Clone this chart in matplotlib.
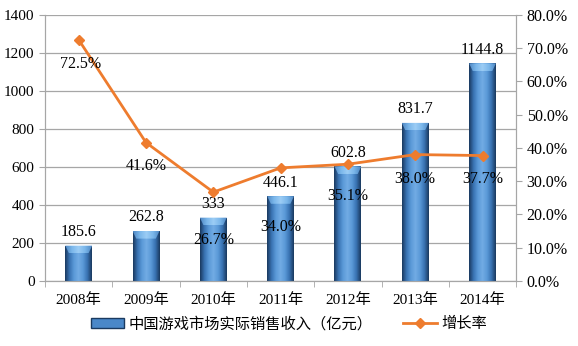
import numpy as np
import matplotlib.pyplot as plt
from matplotlib.colors import LinearSegmentedColormap
from matplotlib.lines import Line2D
from matplotlib.patches import Patch, Polygon

plt.rcParams['font.family'] = ['Liberation Serif', 'Noto Sans CJK SC', 'DejaVu Sans']

years = ['2008年', '2009年', '2010年', '2011年', '2012年', '2013年', '2014年']
revenue = [185.6, 262.8, 333, 446.1, 602.8, 831.7, 1144.8]
revenue_labels = ['185.6', '262.8', '333', '446.1', '602.8', '831.7', '1144.8']
growth = [72.5, 41.6, 26.7, 34.0, 35.1, 38.0, 37.7]
# offsets (points) of each growth label from its marker
growth_offsets = [(1, -12), (0, -11), (0, -29), (0, -37), (0, -17), (0, -12), (0, -11)]

bar_blue = '#4a88c9'
line_orange = '#ee7c2e'
grid_gray = '#a6a6a6'

fig = plt.figure(figsize=(5.78, 3.46), dpi=100)
ax = fig.add_axes([0.078, 0.188, 0.815, 0.769])
x = np.arange(len(years))
w = 0.4

bars = ax.bar(x, revenue, width=w, color=bar_blue, zorder=2)

# cylinder-like shading on each bar, lighter bevel on top
shade = LinearSegmentedColormap.from_list(
    'shade', ['#1a3a60', '#3a74b4', '#5b9ad8', '#72ace4', '#5b9ad8', '#3a74b4', '#1a3a60'])
shade_top = LinearSegmentedColormap.from_list(
    'shade_top', ['#4f88c4', '#7ab6ea', '#9ccdf5', '#7ab6ea', '#4f88c4'])
grad = np.linspace(0, 1, 64).reshape(1, -1)
bevel = 40
for xi, v, b in zip(x, revenue, bars):
    im = ax.imshow(grad, cmap=shade, aspect='auto', zorder=3,
                   extent=(xi - w / 2, xi + w / 2, 0, v))
    im.set_clip_path(b)
    top = Polygon([(xi - w / 2, v), (xi + w / 2, v),
                   (xi + w / 2 - 0.055, v - bevel), (xi - w / 2 + 0.055, v - bevel)],
                  closed=True, facecolor='none', edgecolor='none')
    ax.add_patch(top)
    im2 = ax.imshow(grad, cmap=shade_top, aspect='auto', zorder=4,
                    extent=(xi - w / 2, xi + w / 2, v - bevel, v))
    im2.set_clip_path(top)
    ax.annotate(revenue_labels[xi], (xi, v), xytext=(0, 4), textcoords='offset points',
                ha='center', va='bottom', fontsize=11.5, zorder=6)
ax.set_xlim(-0.5, len(years) - 0.5)
ax.set_ylim(0, 1400)

ax.set_yticks(np.arange(0, 1401, 200))
ax.yaxis.grid(True, color=grid_gray, linewidth=0.9, zorder=0)
ax.set_axisbelow(True)
ax.set_xticks(x)
ax.set_xticklabels(years, fontsize=11)
ax.set_xticks(np.arange(-0.5, len(years)), minor=True)
ax.tick_params(axis='x', which='major', length=0, pad=9)
ax.tick_params(axis='x', which='minor', length=4, color=grid_gray)
ax.tick_params(axis='y', length=4, color=grid_gray, labelsize=11)
for s in ['left', 'bottom', 'right']:
    ax.spines[s].set_color(grid_gray)
ax.spines['top'].set_visible(False)

ax2 = ax.twinx()
ax2.plot(x, growth, color=line_orange, linewidth=2, marker='D', markersize=5.5, zorder=5)
ax2.set_ylim(0, 80)
ax2.set_yticks(np.arange(0, 81, 10))
ax2.set_yticklabels(['%.1f%%' % t for t in np.arange(0, 81, 10)])
ax2.tick_params(axis='y', length=4, color=grid_gray, labelsize=11.5)
for s in ['left', 'bottom', 'right']:
    ax2.spines[s].set_color(grid_gray)
ax2.spines['top'].set_visible(False)
for xi, g, off in zip(x, growth, growth_offsets):
    ax2.annotate('%.1f%%' % g, (xi, g), xytext=off, textcoords='offset points',
                 ha='center', va='top', fontsize=11.5, zorder=6)

handles = [Patch(facecolor=bar_blue, edgecolor='#1a3a60'),
           Line2D([0], [0], color=line_orange, linewidth=2, marker='D', markersize=5)]
fig.legend(handles, ['中国游戏市场实际销售收入（亿元）', '增长率'],
           loc='lower center', bbox_to_anchor=(0.5, 0.0), ncol=2, frameon=False,
           prop={'family': ['Noto Sans CJK SC'], 'size': 11}, columnspacing=2.0,
           handlelength=2.2, handletextpad=0.3)

fig.savefig('out.png', dpi=100)
